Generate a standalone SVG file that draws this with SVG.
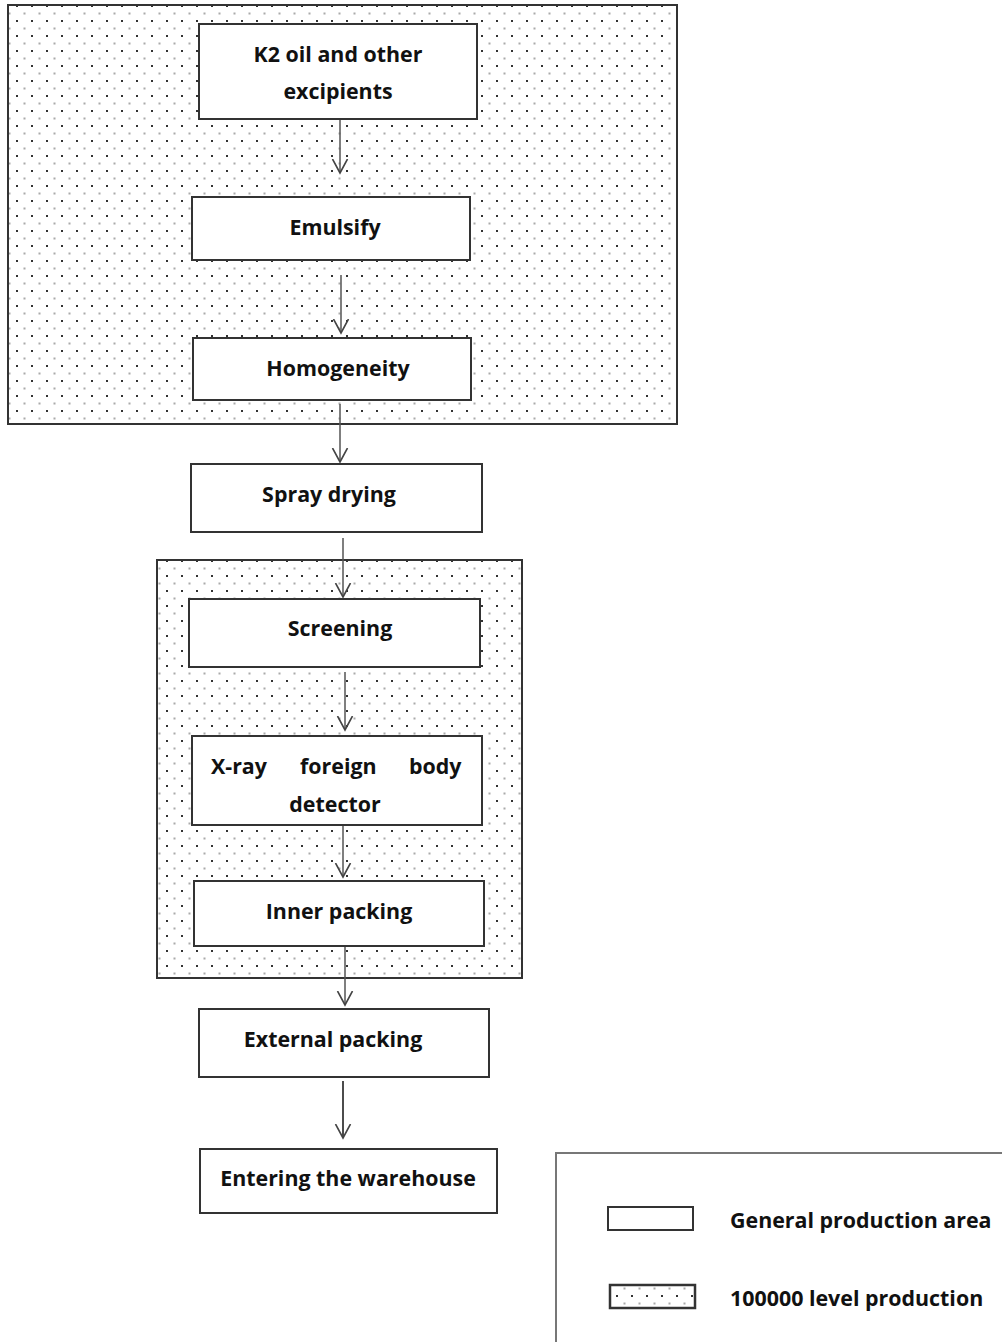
<svg xmlns="http://www.w3.org/2000/svg" width="1002" height="1342" viewBox="0 0 1002 1342">
<style>
.box{fill:#fff;stroke:#333;stroke-width:2}
.zone{fill:url(#dots);stroke:#333;stroke-width:2}
.t{font-family:"Open Sans",Lato,"Liberation Sans",sans-serif;font-weight:bold;font-size:21.4px;fill:#111}
.c{text-anchor:middle}
.arr{fill:none;stroke:#555;stroke-width:1.5;marker-end:url(#ah)}
</style>
<defs>
<pattern id="dots" patternUnits="userSpaceOnUse" width="15" height="15">
<rect width="15" height="15" fill="#fff"/>
<rect x="1" y="5" width="2" height="2" fill="#333"/>
<rect x="8.5" y="12.5" width="2" height="2" fill="#aaa"/>
</pattern>
<marker id="ah" markerWidth="16" markerHeight="18" refX="14" refY="8" orient="auto" markerUnits="userSpaceOnUse" viewBox="0 0 16 16">
<path d="M0,0.5 L14,8 L0,15.5" fill="none" stroke="#444" stroke-width="1.6"/>
</marker>
</defs>
<rect width="1002" height="1342" fill="#fff"/>
<g id="zone1"><rect class="zone" x="8" y="5" width="669" height="419"/></g>
<g id="zone2"><rect class="zone" x="157" y="560" width="365" height="418"/></g>
<g id="connectors">
<path class="arr" d="M340,120 V173"/>
<path class="arr" d="M341,275 V333"/>
<path class="arr" d="M340,404 V462"/>
<path class="arr" d="M343,538 V597"/>
<path class="arr" d="M345,672 V730"/>
<path class="arr" d="M343,818 V877"/>
<path class="arr" d="M345,946 V1005"/>
<path class="arr" d="M343,1081 V1138" style="stroke:#111"/>
</g>
<g id="n1"><rect class="box" x="199" y="24" width="278" height="95"/>
<text class="t c" x="338" y="62">K2 oil and other</text>
<text class="t c" x="338" y="99">excipients</text></g>
<g id="n2"><rect class="box" x="192" y="197" width="278" height="63"/><text class="t c" x="335" y="235">Emulsify</text></g>
<g id="n3"><rect class="box" x="193" y="338" width="278" height="62"/><text class="t c" x="338" y="376">Homogeneity</text></g>
<g id="n4"><rect class="box" x="191" y="464" width="291" height="68"/><text class="t c" x="329" y="502">Spray drying</text></g>
<g id="n5"><rect class="box" x="189" y="599" width="291" height="68"/><text class="t c" x="340" y="636">Screening</text></g>
<g id="n6"><rect class="box" x="192" y="736" width="290" height="89"/>
<text class="t" y="774"><tspan x="211">X-ray</tspan><tspan x="300">foreign</tspan><tspan x="409">body</tspan></text>
<text class="t c" x="335" y="812">detector</text></g>
<g id="n7"><rect class="box" x="194" y="881" width="290" height="65"/><text class="t c" x="339" y="919">Inner packing</text></g>
<g id="n8"><rect class="box" x="199" y="1009" width="290" height="68"/><text class="t c" x="333" y="1047">External packing</text></g>
<g id="n9"><rect class="box" x="200" y="1149" width="297" height="64"/><text class="t c" x="348" y="1186">Entering the warehouse</text></g>
<g id="legend">
<path d="M556,1342 V1153 H1002" fill="none" stroke="#777" stroke-width="2"/>
<rect class="box" x="608" y="1207" width="85" height="23"/>
<text class="t" x="730" y="1228">General production area</text>
<rect class="zone" x="610" y="1285" width="85" height="23" style="stroke-width:2.5"/>
<text class="t" x="730" y="1306">100000 level production</text>
</g>
</svg>
